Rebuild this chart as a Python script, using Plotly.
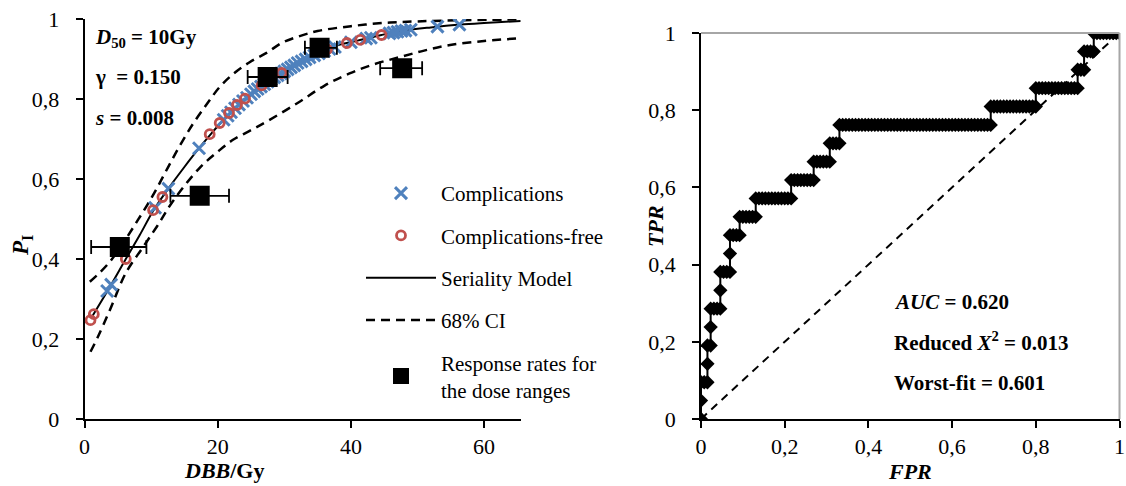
import plotly.graph_objects as go

# ---------------- data ----------------
model_dose = [1.1, 3.8, 6.2, 8.3, 10.3, 12.5, 15.0, 17.2, 19.0, 21.0, 23.0, 25.0, 27.0,
              29.5, 32.0, 35.0, 38.0, 41.0, 44.6, 48.0, 52.0, 56.4, 60.0, 65.5]
model_p = [0.255, 0.330, 0.400, 0.460, 0.520, 0.574, 0.630, 0.677, 0.713, 0.750, 0.783,
           0.812, 0.837, 0.864, 0.890, 0.916, 0.934, 0.946, 0.960, 0.971, 0.979, 0.986,
           0.990, 0.995]

ci_upper_dose = [0.8, 2.3, 3.8, 5.0, 6.4, 8.0, 9.5, 10.9, 12.5, 14.3, 16.3, 18.4, 20.3,
                 22.3, 24.8, 27.4, 29.6, 31.9, 35.0, 40.0, 44.8, 50.0, 57.0, 65.5]
ci_upper_p = [0.343, 0.366, 0.393, 0.420, 0.455, 0.497, 0.537, 0.578, 0.628, 0.683, 0.738,
              0.788, 0.830, 0.862, 0.892, 0.916, 0.940, 0.955, 0.970, 0.982, 0.990, 0.994,
              0.997, 0.999]

ci_lower_dose = [0.9, 2.0, 3.8, 6.2, 8.8, 10.9, 13.3, 17.3, 20.0, 22.3, 25.0, 27.5, 32.0,
                 36.0, 39.8, 43.5, 47.4, 51.0, 54.9, 60.0, 65.5]
ci_lower_p = [0.168, 0.205, 0.272, 0.365, 0.430, 0.482, 0.545, 0.628, 0.668, 0.698, 0.722,
              0.745, 0.790, 0.833, 0.864, 0.887, 0.905, 0.921, 0.935, 0.945, 0.952]

comp_dose = [3.4, 4.0, 10.6, 12.6, 17.2, 20.9, 21.5, 22.0, 22.6, 23.2, 23.8, 24.4, 25.0,
             25.5, 26.0, 26.5, 27.0, 27.5, 28.0, 28.5, 29.0, 29.5, 30.0, 30.5, 31.0, 31.5,
             32.0, 32.6, 33.2, 33.8, 34.5, 35.2, 36.0, 36.8, 37.6, 40.0, 42.3, 43.0, 45.8,
             46.4, 47.0, 47.6, 48.2, 49.0, 53.0, 56.3]
comp_p = [0.320, 0.336, 0.528, 0.576, 0.677, 0.748, 0.758, 0.767, 0.777, 0.786, 0.795,
          0.803, 0.812, 0.819, 0.825, 0.831, 0.837, 0.843, 0.849, 0.854, 0.859, 0.864,
          0.869, 0.874, 0.879, 0.884, 0.890, 0.894, 0.899, 0.904, 0.909, 0.914, 0.920,
          0.925, 0.930, 0.942, 0.951, 0.953, 0.964, 0.966, 0.968, 0.970, 0.971, 0.973,
          0.981, 0.986]

free_dose = [0.9, 1.4, 6.2, 10.3, 11.7, 18.8, 20.3, 21.7, 22.9, 24.1, 26.6, 29.6, 36.4,
             39.4, 41.4, 44.6]
free_p = [0.247, 0.262, 0.400, 0.522, 0.555, 0.712, 0.740, 0.765, 0.785, 0.801, 0.834,
          0.865, 0.924, 0.940, 0.948, 0.960]

range_dose = [5.3, 17.3, 27.5, 35.3, 47.7]
range_rate = [0.430, 0.558, 0.855, 0.928, 0.877]
range_err_minus = [4.3, 4.4, 3.0, 2.2, 3.3]
range_err_plus = [4.0, 4.4, 3.0, 2.6, 3.0]

# ROC curve as counts: for each true-positive count, the run of false-positive counts
n_pos = 21
n_neg = 130
roc_tp_count = list(range(22))
roc_fp_first = [0, 0, 0, 2, 2, 3, 3, 6, 6, 9, 9, 12, 17, 28, 35, 40, 43, 90, 104, 117, 119, 122]
roc_fp_last = [0, 0, 2, 2, 3, 3, 6, 6, 9, 9, 12, 17, 28, 35, 40, 43, 90, 104, 117, 119, 122, 130]

x_ticks_left = [0, 20, 40, 60]
y_ticks = [0, 0.2, 0.4, 0.6, 0.8, 1]

# ---------------- figure ----------------
FONT = "Liberation Serif, Times New Roman, serif"
W, H = 1126, 486
BLUE = "#4F81BD"
RED = "#C0504D"

roc_fpr, roc_tpr = [], []
for k, f0, f1 in zip(roc_tp_count, roc_fp_first, roc_fp_last):
    for f in range(f0, f1 + 1):
        roc_fpr.append(f / n_neg)
        roc_tpr.append(k / n_pos)

fig = go.Figure()

fig.add_trace(go.Scatter(x=ci_upper_dose, y=ci_upper_p, mode="lines", name="68% CI",
                         line=dict(color="black", width=2.5, dash="9px,6px", shape="spline"),
                         legendgroup="ci", legendrank=4))
fig.add_trace(go.Scatter(x=ci_lower_dose, y=ci_lower_p, mode="lines", showlegend=False,
                         line=dict(color="black", width=2.5, dash="9px,6px", shape="spline"),
                         legendgroup="ci"))
fig.add_trace(go.Scatter(x=model_dose, y=model_p, mode="lines", name="Seriality Model",
                         line=dict(color="black", width=2, shape="spline"),
                         legendgroup="model", legendrank=3))
fig.add_trace(go.Scatter(x=comp_dose, y=comp_p, mode="markers", name="Complications",
                         marker=dict(symbol="x-thin", size=12,
                                     line=dict(color=BLUE, width=3)),
                         legendgroup="comp", legendrank=1))
fig.add_trace(go.Scatter(x=free_dose, y=free_p, mode="markers", name="Complications-free",
                         marker=dict(symbol="circle-open", size=9, color=RED,
                                     line=dict(color=RED, width=2.8)),
                         legendgroup="free", legendrank=2))
fig.add_trace(go.Scatter(x=range_dose, y=range_rate, mode="markers",
                         name="Response rates for<br>the dose ranges",
                         marker=dict(symbol="square", size=20, color="black"),
                         error_x=dict(type="data", symmetric=False, array=range_err_plus,
                                      arrayminus=range_err_minus, color="black",
                                      thickness=1.8, width=7),
                         legendgroup="rates", legendrank=5))

# ROC panel
fig.add_trace(go.Scatter(x=[0, 1], y=[0, 1], xaxis="x2", yaxis="y2", mode="lines",
                         showlegend=False,
                         line=dict(color="black", width=2, dash="8px,6px")))
fig.add_trace(go.Scatter(x=roc_fpr, y=roc_tpr, xaxis="x2", yaxis="y2", mode="lines+markers",
                         showlegend=False,
                         line=dict(color="black", width=2),
                         marker=dict(symbol="diamond", size=11, color="black")))

tickfont = dict(family=FONT, size=22, color="black")
axis_common = dict(showgrid=False, zeroline=False, showline=True, linecolor="black",
                   linewidth=1.5, ticks="outside", ticklen=7, tickwidth=1.5,
                   tickcolor="black", tickfont=tickfont, automargin=False)

fig.update_layout(
    width=W, height=H,
    margin=dict(l=0, r=0, t=0, b=0, autoexpand=False),
    paper_bgcolor="white", plot_bgcolor="white",
    separators=", ",
    font=dict(family=FONT, color="black"),
    xaxis=dict(domain=[84.5 / W, 520.7 / W], range=[0, 65.5], tickvals=x_ticks_left,
               anchor="y", ticklabelstandoff=0, **axis_common),
    yaxis=dict(domain=[67 / H, 467 / H], range=[0, 1], tickvals=y_ticks,
               anchor="x", ticklabelstandoff=12, **axis_common),
    xaxis2=dict(domain=[701 / W, 1119.5 / W], range=[0, 1], tickvals=y_ticks,
                anchor="y2", ticklabelstandoff=0, **axis_common),
    yaxis2=dict(domain=[67 / H, 453 / H], range=[0, 1], tickvals=y_ticks,
                anchor="x2", ticklabelstandoff=12, **axis_common),
    legend=dict(x=361 / W, y=1 - 173 / H, xanchor="left", yanchor="top",
                font=dict(family=FONT, size=21, color="black"),
                bgcolor="rgba(0,0,0,0)", traceorder="grouped", tracegroupgap=12,
                itemwidth=70),
    showlegend=True,
)

# grey frame on top/right of ROC panel
fig.add_shape(type="line", xref="x2 domain", yref="y2 domain", x0=0, x1=1, y0=1, y1=1,
              line=dict(color="#A6A6A6", width=2))
fig.add_shape(type="line", xref="x2 domain", yref="y2 domain", x0=1, x1=1, y0=0, y1=1,
              line=dict(color="#A6A6A6", width=2))

def ann(text, x, y, size=21, angle=0, xanchor="left"):
    fig.add_annotation(text=text, x=x / W, y=1 - y / H, xref="paper", yref="paper",
                       showarrow=False, xanchor=xanchor, yanchor="middle", textangle=angle,
                       font=dict(family=FONT, size=size, color="black"))

ann("<b><i>D</i><sub>50</sub> = 10Gy</b>", 93, 38)
ann("<b>γ \u00a0= 0.150</b>", 93, 77)
ann("<b><i>s</i> = 0.008</b>", 93, 118)
ann("<b><i>AUC</i> = 0.620</b>", 892, 302)
ann("<b>Reduced <i>X</i><sup>2</sup> = 0.013</b>", 892, 341)
ann("<b>Worst-fit = 0.601</b>", 892, 383)

ann("<b><i>P</i><sub>I</sub></b>", 22, 246, size=23, angle=-90, xanchor="center")
ann("<b><i>DBB</i>/Gy</b>", 224, 470, size=22, xanchor="center")
ann("<b><i>TPR</i></b>", 655, 226, size=22, angle=-90, xanchor="center")
ann("<b><i>FPR</i></b>", 910, 471, size=22, xanchor="center")

fig.write_html("out.html")
